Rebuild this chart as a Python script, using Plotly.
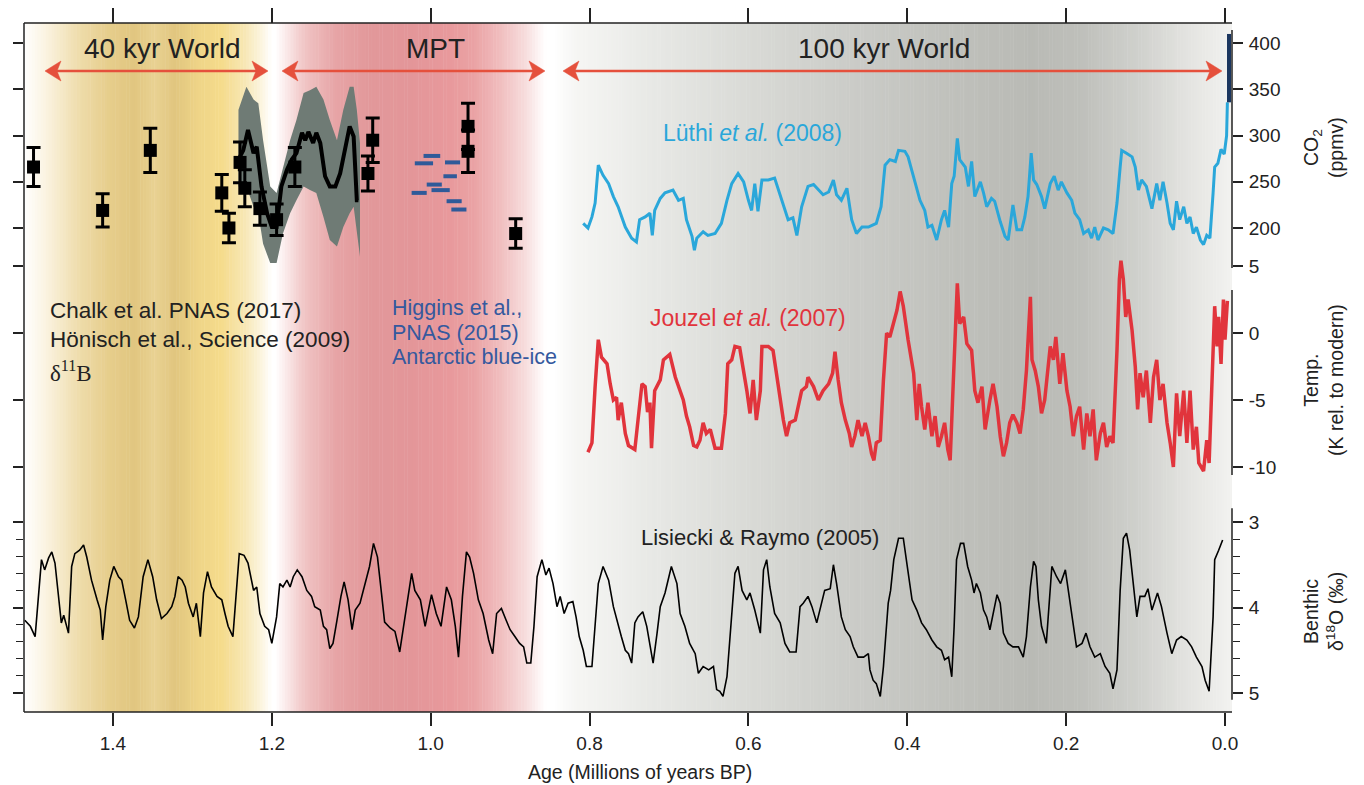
import plotly.graph_objects as go

# ---------------- DATA ----------------
# Lüthi et al. (2008) EPICA Dome C CO2 (age in Ma BP, ppmv)
luthi_age = [0.808,0.802,0.797,0.793,0.789,0.783,0.776,0.770,0.764,0.755,
             0.747,0.741,0.737,0.730,0.724,0.721,0.718,0.711,0.705,0.695,
             0.688,0.682,0.678,0.671,0.668,0.665,0.657,0.651,0.642,0.634,
             0.627,0.621,0.613,0.606,0.600,0.596,0.592,0.588,0.583,0.575,
             0.567,0.562,0.556,0.550,0.544,0.539,0.533,0.525,0.518,0.512,
             0.506,0.499,0.493,0.489,0.483,0.476,0.470,0.464,0.457,0.449,
             0.439,0.433,0.428,0.422,0.415,0.411,0.403,0.399,0.392,0.384,
             0.378,0.374,0.369,0.363,0.357,0.353,0.348,0.344,0.341,0.337,
             0.334,0.327,0.323,0.319,0.315,0.308,0.304,0.300,0.294,0.290,
             0.283,0.277,0.273,0.269,0.267,0.262,0.256,0.252,0.248,0.244,
             0.241,0.237,0.231,0.227,0.220,0.215,0.210,0.206,0.199,0.193,
             0.189,0.183,0.178,0.172,0.168,0.164,0.160,0.153,0.147,0.141,
             0.136,0.132,0.130,0.124,0.117,0.113,0.109,0.105,0.099,0.092,
             0.086,0.082,0.078,0.073,0.069,0.065,0.061,0.057,0.052,0.048,
             0.044,0.040,0.036,0.031,0.027,0.023,0.019,0.015,0.013,0.009,
             0.005,0.001,-0.002,-0.003]
luthi_co2 = [205,200,212,227,268,257,248,234,223,201,
             189,185,209,212,216,192,219,232,238,241,
             230,232,209,191,176,189,196,192,194,205,
             230,248,259,250,230,219,248,218,252,252,
             254,241,223,209,211,192,223,245,247,241,
             236,239,252,236,230,243,209,194,201,201,
             205,223,268,274,272,284,283,277,256,230,
             219,201,203,187,209,219,201,248,256,297,
             274,266,245,272,234,250,238,223,232,229,
             207,191,187,209,225,198,198,212,234,281,
             252,247,234,221,248,256,241,250,238,230,
             216,209,194,198,189,201,187,200,198,194,
             227,266,284,281,277,266,241,252,245,221,
             248,230,250,227,205,198,229,209,223,205,
             212,194,201,187,182,192,189,238,266,270,
             285,280,300,336]

# modern CO2 rise
modern_age = [-0.005, -0.005]
modern_co2 = [336, 410]

# Jouzel et al. (2007) temperature anomaly (K rel. to modern)
jouzel_age = [0.802,0.797,0.793,0.789,0.785,0.778,0.774,0.770,0.766,0.764,
              0.760,0.755,0.751,0.743,0.739,0.734,0.730,0.727,0.724,0.722,
              0.718,0.711,0.707,0.699,0.692,0.686,0.682,0.678,0.674,0.669,
              0.665,0.661,0.657,0.653,0.648,0.642,0.634,0.629,0.626,0.621,
              0.617,0.611,0.606,0.602,0.598,0.594,0.590,0.585,0.583,0.575,
              0.569,0.564,0.560,0.556,0.552,0.548,0.541,0.537,0.533,0.527,
              0.525,0.518,0.512,0.506,0.499,0.494,0.491,0.487,0.483,0.478,
              0.473,0.470,0.466,0.462,0.457,0.453,0.449,0.445,0.442,0.439,
              0.434,0.430,0.426,0.422,0.418,0.413,0.409,0.405,0.399,0.392,
              0.388,0.385,0.382,0.378,0.374,0.369,0.365,0.361,0.357,0.353,
              0.349,0.346,0.343,0.340,0.337,0.334,0.329,0.325,0.319,0.315,
              0.311,0.306,0.302,0.296,0.292,0.287,0.283,0.279,0.275,0.271,
              0.267,0.262,0.258,0.254,0.250,0.245,0.243,0.239,0.235,0.231,
              0.227,0.220,0.216,0.213,0.208,0.204,0.199,0.195,0.191,0.187,
              0.183,0.178,0.174,0.170,0.166,0.162,0.157,0.153,0.149,0.145,
              0.141,0.136,0.133,0.131,0.128,0.125,0.122,0.117,0.113,0.110,
              0.107,0.103,0.099,0.094,0.090,0.086,0.082,0.078,0.073,0.069,
              0.065,0.061,0.057,0.052,0.048,0.044,0.040,0.036,0.033,0.027,
              0.023,0.020,0.017,0.013,0.010,0.008,0.005,0.002,0.000,-0.003]
jouzel_temp = [-8.9,-8.2,-4.0,-0.5,-1.8,-2.3,-3.8,-5.0,-4.8,-6.5,
               -5.2,-7.5,-8.4,-8.7,-6.5,-3.8,-4.0,-5.9,-5.2,-8.6,
               -4.3,-3.5,-2.0,-1.6,-3.3,-4.3,-5.0,-6.2,-7.0,-8.4,
               -8.5,-8.0,-6.7,-7.5,-7.2,-8.6,-8.6,-6.0,-2.3,-2.0,
               -1.0,-1.1,-2.8,-4.3,-6.0,-3.5,-6.5,-4.3,-1.0,-1.0,
               -1.3,-3.3,-5.2,-6.5,-7.7,-6.7,-6.5,-5.5,-4.3,-4.0,
               -3.3,-4.0,-5.0,-4.3,-3.8,-3.0,-1.4,-3.5,-5.2,-6.5,
               -7.5,-8.5,-7.7,-6.5,-7.7,-6.7,-7.7,-9.0,-9.5,-8.2,
               -8.0,-3.5,0.0,-0.3,0.7,1.7,3.1,2.0,-0.5,-3.0,
               -6.5,-3.8,-5.5,-7.2,-5.2,-7.7,-6.2,-8.5,-7.7,-6.7,
               -8.7,-9.5,-5.0,0.0,3.7,0.7,1.2,-0.8,-1.3,-4.3,
               -5.2,-4.0,-7.2,-5.0,-3.8,-5.5,-7.7,-9.2,-8.2,-6.7,
               -6.1,-6.7,-7.5,-5.7,-2.8,2.7,-2.0,-2.8,-4.0,-6.0,
               -5.0,-1.0,-2.0,-0.3,-3.8,-1.5,-4.3,-5.5,-7.7,-6.2,
               -5.5,-8.7,-6.0,-7.7,-5.7,-9.5,-7.5,-6.7,-8.5,-7.7,
               -8.2,-1.3,4.0,5.4,4.0,1.2,2.5,0.2,-2.5,-5.7,
               -3.0,-4.8,-2.8,-6.7,-3.3,-2.0,-5.0,-3.8,-6.7,-8.2,
               -10.0,-4.5,-7.7,-4.3,-8.2,-4.3,-8.7,-7.0,-9.7,-10.3,
               -8.0,-9.7,-3.8,2.0,-1.0,1.2,-2.3,2.5,-0.5,2.4]

# Lisiecki & Raymo (2005) benthic d18O (permil)
lr04_age = [1.511,1.504,1.498,1.494,1.490,1.486,1.481,1.477,1.473,1.469,
            1.465,1.462,1.456,1.452,1.448,1.442,1.437,1.433,1.427,1.420,
            1.416,1.413,1.409,1.404,1.399,1.393,1.389,1.384,1.379,1.373,
            1.368,1.362,1.356,1.350,1.345,1.339,1.332,1.326,1.322,1.318,
            1.313,1.309,1.305,1.299,1.295,1.290,1.286,1.281,1.276,1.269,
            1.263,1.259,1.255,1.249,1.245,1.241,1.235,1.230,1.223,1.219,
            1.215,1.209,1.204,1.200,1.194,1.190,1.186,1.181,1.177,1.173,
            1.168,1.162,1.156,1.150,1.146,1.139,1.135,1.131,1.127,1.123,
            1.118,1.113,1.109,1.104,1.099,1.095,1.089,1.083,1.077,1.072,
            1.067,1.062,1.058,1.051,1.045,1.039,1.034,1.029,1.024,1.020,
            1.013,1.007,0.999,0.993,0.987,0.980,0.974,0.969,0.965,0.960,
            0.955,0.951,0.946,0.940,0.934,0.927,0.922,0.917,0.911,0.905,
            0.900,0.894,0.888,0.883,0.879,0.874,0.870,0.866,0.860,0.855,
            0.851,0.846,0.841,0.837,0.832,0.827,0.821,0.817,0.813,0.808,
            0.804,0.797,0.793,0.789,0.783,0.776,0.770,0.764,0.760,0.755,
            0.751,0.747,0.743,0.739,0.733,0.728,0.724,0.720,0.715,0.711,
            0.705,0.697,0.690,0.686,0.680,0.674,0.667,0.663,0.657,0.650,
            0.644,0.640,0.636,0.632,0.627,0.623,0.617,0.613,0.608,0.602,
            0.598,0.592,0.585,0.581,0.577,0.573,0.567,0.560,0.554,0.548,
            0.540,0.535,0.531,0.525,0.520,0.514,0.508,0.504,0.497,0.493,
            0.489,0.483,0.478,0.472,0.468,0.462,0.455,0.449,0.447,0.443,
            0.439,0.434,0.430,0.427,0.424,0.421,0.417,0.411,0.405,0.400,
            0.394,0.388,0.382,0.376,0.369,0.363,0.357,0.353,0.348,0.344,
            0.341,0.338,0.333,0.329,0.324,0.319,0.316,0.313,0.308,0.304,
            0.300,0.296,0.292,0.287,0.283,0.279,0.273,0.267,0.260,0.254,
            0.250,0.245,0.241,0.238,0.235,0.231,0.225,0.221,0.218,0.212,
            0.207,0.201,0.197,0.192,0.187,0.180,0.175,0.170,0.164,0.157,
            0.151,0.145,0.141,0.136,0.132,0.128,0.124,0.120,0.115,0.111,
            0.107,0.101,0.097,0.092,0.085,0.080,0.073,0.067,0.061,0.055,
            0.048,0.042,0.036,0.029,0.025,0.020,0.015,0.013,0.008,0.003]
lr04_d18o = [4.15,4.22,4.34,3.87,3.44,3.56,3.42,3.35,3.48,3.83,
             4.18,4.09,4.30,3.52,3.37,3.33,3.27,3.41,3.68,3.91,
             4.03,4.38,3.99,3.68,3.52,3.64,3.68,3.91,4.15,4.24,
             4.11,3.64,3.44,3.64,3.91,4.13,4.07,3.99,3.87,3.64,
             3.68,3.76,3.95,4.11,3.95,4.34,3.83,3.58,3.76,3.87,
             3.91,4.07,4.22,4.34,3.83,3.37,3.39,3.48,3.80,3.76,
             4.07,4.22,4.26,4.42,4.11,3.72,3.76,3.68,3.76,3.64,
             3.56,3.64,3.80,3.87,3.99,4.03,4.22,4.26,4.48,4.42,
             4.15,3.87,3.70,3.91,4.26,4.03,3.95,3.72,3.52,3.25,
             3.41,3.83,4.17,4.24,4.28,4.52,4.22,3.87,3.60,3.80,
             3.91,4.22,3.85,4.07,4.22,3.76,3.91,4.22,4.58,3.87,
             3.35,3.41,3.60,3.91,4.07,4.38,4.54,4.07,4.01,4.15,
             4.26,4.34,4.42,4.46,4.65,4.65,4.22,3.64,3.44,3.62,
             3.54,3.72,3.99,3.87,4.07,3.95,3.93,4.11,4.34,4.50,
             4.69,4.69,4.22,3.72,3.52,3.68,3.99,4.22,4.34,4.50,
             4.54,4.65,4.18,4.11,4.05,4.22,4.46,4.65,4.30,3.99,
             3.83,3.52,3.72,4.07,4.22,4.42,4.54,4.77,4.69,4.73,
             4.69,4.96,4.98,5.04,4.81,4.30,3.60,3.52,3.80,3.91,
             3.83,4.03,4.30,3.56,3.44,3.76,4.07,4.18,4.42,4.52,
             4.52,3.99,3.95,3.87,3.99,4.18,3.95,3.80,3.78,3.50,
             3.72,4.11,4.26,4.34,4.46,4.58,4.58,4.54,4.73,4.85,
             4.89,5.04,4.69,4.30,3.95,3.80,3.44,3.19,3.19,3.52,
             3.91,4.03,4.18,4.26,4.38,4.46,4.50,4.61,4.58,4.81,
             4.22,3.44,3.25,3.25,3.52,3.68,3.83,3.72,3.83,4.03,
             4.11,4.26,4.07,3.85,3.95,4.30,4.42,4.46,4.46,4.58,
             4.34,3.76,3.46,3.52,3.91,4.22,4.42,3.83,3.52,3.64,
             3.72,3.56,3.83,4.15,4.46,4.42,4.30,4.46,4.58,4.54,
             4.69,4.77,4.95,4.73,3.80,3.19,3.13,3.33,3.80,4.11,
             3.87,3.87,3.78,4.03,3.83,3.99,4.30,4.54,4.38,4.34,
             4.38,4.46,4.58,4.69,4.85,4.98,4.11,3.44,3.33,3.21]

# boron-isotope CO2 (Chalk et al. 2017, Hönisch et al. 2009)
boron_age = [1.500, 1.413, 1.353, 1.263, 1.254, 1.240, 1.234, 1.215, 1.194,
             1.171, 1.079, 1.073, 0.953, 0.953, 0.893]
boron_co2 = [266, 219, 284, 238, 200, 271, 243, 221, 209, 266, 259, 295, 310, 283, 194]
boron_err = [21, 18, 24, 20, 16, 22, 20, 18, 17, 21, 19, 24, 25, 23, 16]

# Chalk et al. smoothed CO2 with uncertainty envelope
band_age = [1.242,1.232,1.223,1.217,1.211,1.202,1.194,1.186,1.177,1.169,1.160,
            1.152,1.144,1.135,1.127,1.118,1.110,1.102,1.097,1.093,1.089]
band_hi = [328,353,339,335,295,245,238,266,295,317,346,349,353,339,317,295,328,353,353,328,292]
band_lo = [245,245,223,216,183,162,162,194,216,230,245,241,238,212,187,180,201,216,223,194,169]
chalk_age = [1.242,1.236,1.230,1.223,1.219,1.213,1.206,1.200,1.194,1.188,1.181,1.175,1.169,1.162,
             1.158,1.154,1.148,1.144,1.139,1.133,1.127,1.120,1.114,1.108,1.102,1.097,1.093,1.091]
chalk_co2 = [274,284,306,281,288,245,216,201,201,245,263,274,281,303,
             295,304,292,303,292,256,245,245,259,284,310,299,230,230]

# Higgins et al. (2015) Antarctic blue-ice CO2: segments (start age, end age, ppmv)
hig_start = [1.009, 1.020, 0.982, 0.984, 1.005, 1.024, 0.999, 0.980, 0.974]
hig_end = [0.988, 0.997, 0.963, 0.967, 0.986, 1.005, 0.976, 0.961, 0.955]
hig_co2 = [278, 270, 271, 256, 247, 238, 241, 229, 220]

x_ticks = [1.4, 1.2, 1.0, 0.8, 0.6, 0.4, 0.2, 0.0]
x_ticklabels = ["1.4", "1.2", "1.0", "0.8", "0.6", "0.4", "0.2", "0.0"]
co2_ticks = [200, 250, 300, 350, 400]
temp_ticks = [5, 0, -5, -10]
temp_ticklabels = ["5", "0", "-5", "-10"]
d18o_ticks = [3, 4, 5]

# ---------------- STYLE / LAYOUT ----------------
# the page body has an 8px margin, so the figure is shifted by 8px
BODY = 8
W, H = 1364 - BODY, 785 - BODY
PLOT_L, PLOT_R, PLOT_T, PLOT_B = 24, 1232, 23, 712      # plot area in page pixels
PW, PH = PLOT_R - PLOT_L, PLOT_B - PLOT_T
ML, MT = PLOT_L - BODY, PLOT_T - BODY
MR, MB = W - ML - PW, H - MT - PH
X_RANGE = [1.512, -0.0088]


def px_x(p):
    return (p - PLOT_L) / PW


def px_y(p):
    return (PLOT_B - p) / PH


def age_to_paper(a):
    return (X_RANGE[0] - a) / (X_RANGE[0] - X_RANGE[1])


FONT = "Liberation Sans, Arial, Helvetica, sans-serif"
SERIF = "Liberation Serif, Times New Roman, serif"
INK = "#222222"

# background gradient colour stops (age in Ma, colour)
bg_stops = [
    (1.512, "#ffffff"), (1.486, "#fbf4e3"), (1.441, "#eedcaa"), (1.404, "#e6cd8b"),
    (1.372, "#e1c680"), (1.347, "#e9d293"), (1.322, "#e1c67f"), (1.290, "#efd588"),
    (1.263, "#f5db8b"), (1.234, "#f7e7b4"), (1.212, "#fcf5e0"), (1.200, "#ffffff"),
    (1.195, "#ffffff"), (1.183, "#fbecec"), (1.158, "#f0c4c4"), (1.120, "#e7a5a7"),
    (1.076, "#e2989a"), (1.026, "#e39699"), (0.976, "#e8999c"), (0.944, "#eaa3a5"),
    (0.913, "#f0bdbe"), (0.881, "#f7dcdc"), (0.855, "#ffffff"),
    (0.845, "#ffffff"), (0.818, "#f6f6f4"), (0.724, "#e8e9e6"), (0.598, "#d9dad6"),
    (0.472, "#cbccc8"), (0.346, "#c0c1bc"), (0.246, "#b9bab5"), (0.183, "#bebfba"),
    (0.107, "#d0d1cd"), (0.044, "#e4e4e1"), (-0.0088, "#f2f2f0"),
]


def hex2rgb(h):
    return tuple(int(h[i:i + 2], 16) for i in (1, 3, 5))


def interp_color(a):
    for (a0, c0), (a1, c1) in zip(bg_stops[:-1], bg_stops[1:]):
        if a0 >= a >= a1:
            t = 0 if a0 == a1 else (a0 - a) / (a0 - a1)
            r0, r1 = hex2rgb(c0), hex2rgb(c1)
            return tuple(round(r0[k] + (r1[k] - r0[k]) * t) for k in range(3))
    return (255, 255, 255)


shapes = []
step = 0.0035
a = X_RANGE[0]
while a > X_RANGE[1]:
    c = interp_color(a - step / 2)
    if c != (255, 255, 255):
        shapes.append(dict(type="rect", xref="paper", yref="paper",
                           x0=max(age_to_paper(a) - 0.0004, 0),
                           x1=min(age_to_paper(a - step), 1), y0=0, y1=1,
                           fillcolor="rgb(%d,%d,%d)" % c, line=dict(width=0), layer="below"))
    a -= step

LW = 1.5
# frame and right-hand axis lines
shapes += [
    dict(type="line", xref="paper", yref="paper", x0=0, x1=1, y0=1, y1=1, line=dict(color=INK, width=LW)),
    dict(type="line", xref="paper", yref="paper", x0=0, x1=1, y0=0, y1=0, line=dict(color=INK, width=LW)),
    dict(type="line", xref="paper", yref="paper", x0=0, x1=0, y0=0, y1=1, line=dict(color=INK, width=LW)),
    dict(type="line", xref="paper", yref="y", x0=1, x1=1, y0=156.7, y1=414.3, line=dict(color=INK, width=LW)),
    dict(type="line", xref="paper", yref="y2", x0=1, x1=1, y0=-10.6, y1=3.2, line=dict(color=INK, width=LW)),
    dict(type="line", xref="paper", yref="y3", x0=1, x1=1, y0=2.84, y1=5.08, line=dict(color=INK, width=LW)),
]

# double-headed period arrows (page pixels)
ARROW = "#e5503c"
AY = 71
HEAD_L, HEAD_W, NOTCH = 16, 10, 4
for left, right in [(45, 268), (282, 545), (563, 1222)]:
    shapes.append(dict(type="line", xref="paper", yref="paper",
                       x0=px_x(left + HEAD_L - NOTCH), x1=px_x(right - HEAD_L + NOTCH),
                       y0=px_y(AY), y1=px_y(AY), line=dict(color=ARROW, width=2.5)))
    for tip, d in [(right, -1), (left, 1)]:
        pts = [(tip, AY), (tip + d * HEAD_L, AY - HEAD_W), (tip + d * (HEAD_L - NOTCH), AY),
               (tip + d * HEAD_L, AY + HEAD_W)]
        path = "M " + " L ".join("%.5f,%.5f" % (px_x(x), px_y(y)) for x, y in pts) + " Z"
        shapes.append(dict(type="path", xref="paper", yref="paper", path=path,
                           fillcolor=ARROW, line=dict(color=ARROW, width=0.5)))

fig = go.Figure()
fig.add_trace(go.Scatter(x=band_age + band_age[::-1], y=band_hi + band_lo[::-1], fill="toself",
                         fillcolor="#6f7b75", mode="lines", line=dict(width=0), hoverinfo="skip"))
fig.add_trace(go.Scatter(x=chalk_age, y=chalk_co2, mode="lines",
                         line=dict(color="black", width=4), hoverinfo="skip"))
fig.add_trace(go.Scatter(x=boron_age, y=boron_co2, mode="markers",
                         marker=dict(symbol="square", size=13, color="black"),
                         error_y=dict(type="data", array=boron_err, color="black", thickness=3, width=7)))
hx, hy = [], []
for s, e, v in zip(hig_start, hig_end, hig_co2):
    hx += [s, e, None]
    hy += [v, v, None]
fig.add_trace(go.Scatter(x=hx, y=hy, mode="lines", line=dict(color="#2f5a99", width=4)))
fig.add_trace(go.Scatter(x=luthi_age, y=luthi_co2, mode="lines", line=dict(color="#2aa7da", width=3)))
fig.add_trace(go.Scatter(x=modern_age, y=modern_co2, mode="lines", line=dict(color="#1b365f", width=4)))
fig.add_trace(go.Scatter(x=jouzel_age, y=jouzel_temp, mode="lines", yaxis="y2",
                         line=dict(color="#e1343c", width=3.5)))
fig.add_trace(go.Scatter(x=lr04_age, y=lr04_d18o, mode="lines", yaxis="y3",
                         line=dict(color="black", width=1.6)))
# invisible helper so the top tick axis is drawn
fig.add_trace(go.Scatter(x=[0.5], y=[300], xaxis="x2", yaxis="y", mode="markers",
                         marker=dict(opacity=0), hoverinfo="skip"))

TICKFONT = dict(family=FONT, size=19, color=INK)
yax_common = dict(side="right", anchor="x", ticks="outside", ticklen=10, tickwidth=LW,
                  tickcolor=INK, mirror="ticks", showline=False, showgrid=False,
                  zeroline=False, tickfont=TICKFONT, ticklabelstandoff=2)

fig.update_layout(
    width=W, height=H, margin=dict(l=ML, r=MR, t=MT, b=MB, autoexpand=False),
    paper_bgcolor="white", plot_bgcolor="rgba(0,0,0,0)", showlegend=False,
    font=dict(family=FONT, color=INK),
    xaxis=dict(domain=[0, 1], range=X_RANGE, anchor="free", position=0,
               tickvals=x_ticks, ticktext=x_ticklabels, ticks="outside", ticklen=13,
               tickwidth=LW, tickcolor=INK, showline=False, showgrid=False, zeroline=False,
               tickfont=TICKFONT, ticklabelstandoff=1),
    xaxis2=dict(domain=[0, 1], range=X_RANGE, overlaying="x", side="top", anchor="free",
                position=1, tickvals=x_ticks, ticks="outside", ticklen=15, tickwidth=LW,
                tickcolor=INK, showticklabels=False, showline=False, showgrid=False,
                zeroline=False),
    yaxis=dict(domain=[px_y(268), px_y(30)], range=[156.71, 414.29], tickvals=co2_ticks,
               **yax_common),
    yaxis2=dict(domain=[px_y(480), px_y(250)], range=[-10.970, 6.194], tickvals=temp_ticks,
                ticktext=temp_ticklabels, **yax_common),
    yaxis3=dict(domain=[px_y(705), px_y(505)], range=[5.1404, 2.8012], tickvals=d18o_ticks,
                minor=dict(dtick=0.2, tick0=3, ticks="outside", ticklen=7, tickwidth=1.2,
                           tickcolor=INK),
                **yax_common),
    shapes=shapes,
)

ann = []


def text(x, y, s, size, color=INK, xanchor="center", family=FONT, angle=0):
    ann.append(dict(x=px_x(x), y=px_y(y), xref="paper", yref="paper", text=s, showarrow=False,
                    xanchor=xanchor, yanchor="middle", textangle=angle,
                    font=dict(family=family, size=size, color=color)))


text(162, 48, "40 kyr World", 28)
text(435, 48, "MPT", 28)
text(884, 48, "100 kyr World", 28)
text(753, 133, "Lüthi <i>et al.</i> (2008)", 23, color="#2aa7da")
text(748, 318, "Jouzel <i>et al.</i> (2007)", 23, color="#e1343c")
text(760, 537, "Lisiecki &amp; Raymo (2005)", 22)
text(48, 310, "Chalk et al. PNAS (2017)", 22.5, xanchor="left")
text(48, 340, "Hönisch et al., Science (2009)", 22.5, xanchor="left")
text(48, 372, "δ<sup>11</sup>B", 23, xanchor="left", family=SERIF)
text(390, 308, "Higgins et al.,", 21.5, color="#35599e", xanchor="left")
text(390, 333, "PNAS (2015)", 21.5, color="#35599e", xanchor="left")
text(390, 357, "Antarctic blue-ice", 21.5, color="#35599e", xanchor="left")
text(1323, 148, "CO<sub>2</sub><br>(ppmv)", 19.5, angle=-90)
text(1323, 380, "Temp.<br>(K rel. to modern)", 19.5, angle=-90)
text(1323, 612, "Benthic<br>δ<sup>18</sup>O (‰)", 19.5, angle=-90)
text(640, 772, "Age (Millions of years BP)", 19.5)

fig.update_layout(annotations=ann)
fig.write_html("out.html")
